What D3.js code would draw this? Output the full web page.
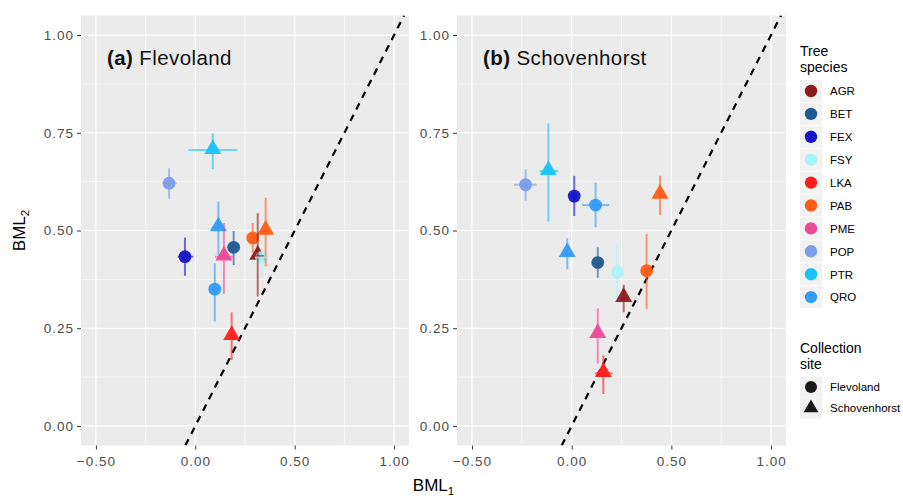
<!DOCTYPE html>
<html>
<head>
<meta charset="utf-8">
<script src="https://cdn.jsdelivr.net/npm/d3@7"></script>
<style>
  html, body { margin: 0; padding: 0; background: #fff; }
  svg { display: block; font-family: "Liberation Sans", Arial, Helvetica, sans-serif; }
</style>
</head>
<body>
<svg id="chart" width="903" height="500"></svg>
<script>
// Tree species and their colours
const speciesNames = ["AGR", "BET", "FEX", "FSY", "LKA", "PAB", "PME", "POP", "PTR", "QRO"];
const speciesColors = ["#8E1B1B", "#1F5A90", "#1414C8", "#A6F3FC", "#FF1C1C", "#FF5B14", "#EC4A95", "#7B9DEA", "#19C3F5", "#339CF9"];
const siteNames = ["Flevoland", "Schovenhorst"];

const axisTicks = [0, 0.25, 0.5, 0.75, 1.0];
const xTicks = [-0.5, 0, 0.5, 1.0];

// Panel (a) Flevoland
const aSpecies = ["PTR", "POP", "QRO", "FEX", "PME", "BET", "PAB", "PAB", "AGR", "FSY", "QRO", "LKA"];
const aSite    = ["Schovenhorst", "Flevoland", "Schovenhorst", "Flevoland", "Schovenhorst", "Flevoland", "Flevoland", "Schovenhorst", "Schovenhorst", "Flevoland", "Flevoland", "Schovenhorst"];
const aBml1    = [0.088, -0.132, 0.116, -0.052, 0.144, 0.193, 0.289, 0.354, 0.314, 0.334, 0.098, 0.183];
const aBml1Lo  = [-0.035, -0.164, 0.082, -0.089, 0.099, 0.178, 0.274, 0.340, 0.290, 0.300, 0.084, 0.168];
const aBml1Hi  = [0.211, -0.094, 0.149, -0.010, 0.188, 0.208, 0.304, 0.368, 0.345, 0.365, 0.112, 0.198];
const aBml2    = [0.706, 0.621, 0.508, 0.433, 0.433, 0.457, 0.481, 0.499, 0.435, 0.431, 0.350, 0.230];
const aBml2Lo  = [0.657, 0.581, 0.437, 0.384, 0.338, 0.412, 0.443, 0.408, 0.331, 0.379, 0.267, 0.169];
const aBml2Hi  = [0.749, 0.659, 0.574, 0.482, 0.519, 0.499, 0.519, 0.584, 0.544, 0.443, 0.416, 0.291];

// Panel (b) Schovenhorst
const bSpecies = ["POP", "PTR", "FEX", "QRO", "PAB", "QRO", "BET", "FSY", "PAB", "AGR", "PME", "LKA"];
const bSite    = ["Flevoland", "Schovenhorst", "Flevoland", "Flevoland", "Schovenhorst", "Schovenhorst", "Flevoland", "Flevoland", "Flevoland", "Schovenhorst", "Schovenhorst", "Schovenhorst"];
const bBml1    = [-0.231, -0.117, 0.013, 0.120, 0.443, -0.022, 0.131, 0.229, 0.376, 0.261, 0.131, 0.159];
const bBml1Lo  = [-0.288, -0.162, 0.000, 0.053, 0.430, -0.035, 0.118, 0.215, 0.362, 0.246, 0.116, 0.117];
const bBml1Hi  = [-0.176, -0.067, 0.026, 0.189, 0.456, -0.009, 0.144, 0.243, 0.390, 0.276, 0.146, 0.205];
const bBml2    = [0.617, 0.652, 0.588, 0.565, 0.591, 0.442, 0.418, 0.393, 0.397, 0.327, 0.235, 0.135];
const bBml2Lo  = [0.576, 0.523, 0.537, 0.508, 0.540, 0.401, 0.379, 0.331, 0.299, 0.291, 0.160, 0.082];
const bBml2Hi  = [0.657, 0.774, 0.640, 0.622, 0.640, 0.480, 0.457, 0.467, 0.491, 0.361, 0.301, 0.180];

function rows(sp, site, x, xlo, xhi, y, ylo, yhi) {
  return sp.map((s, i) => ({ species: s, site: site[i], x: x[i], xlo: xlo[i], xhi: xhi[i], y: y[i], ylo: ylo[i], yhi: yhi[i] }));
}

const panels = [
  { tag: "(a)", name: "Flevoland", left: 81, right: 409,
    data: rows(aSpecies, aSite, aBml1, aBml1Lo, aBml1Hi, aBml2, aBml2Lo, aBml2Hi) },
  { tag: "(b)", name: "Schovenhorst", left: 457, right: 786,
    data: rows(bSpecies, bSite, bBml1, bBml1Lo, bBml1Hi, bBml2, bBml2Lo, bBml2Hi) }
];

const plotTop = 15.5, plotBottom = 445.5;
const color = d3.scaleOrdinal().domain(speciesNames).range(speciesColors);
const triangle = d3.symbol().type(d3.symbolTriangle).size(125);
const triangleKey = d3.symbol().type(d3.symbolTriangle).size(95);

const svg = d3.select("#chart");
const defs = svg.append("defs");

const y = d3.scaleLinear().domain([-0.05, 1.05]).range([plotBottom, plotTop]);

panels.forEach((p, pi) => {
  const x = d3.scaleLinear().domain([-0.575, 1.075]).range([p.left, p.right]);
  const g = svg.append("g");
  const clipId = "clip" + pi;
  defs.append("clipPath").attr("id", clipId)
    .append("rect").attr("x", p.left).attr("y", plotTop).attr("width", p.right - p.left).attr("height", plotBottom - plotTop);

  g.append("rect").attr("x", p.left).attr("y", plotTop).attr("width", p.right - p.left).attr("height", plotBottom - plotTop)
    .attr("fill", "#EBEBEB");

  // minor grid
  const xMinor = [-0.25, 0.25, 0.75];
  const yMinor = [0.125, 0.375, 0.625, 0.875];
  g.selectAll(".xminor").data(xMinor).join("line").attr("class", "xminor")
    .attr("x1", d => x(d)).attr("x2", d => x(d)).attr("y1", plotTop).attr("y2", plotBottom)
    .attr("stroke", "#fff").attr("stroke-width", 0.6);
  g.selectAll(".yminor").data(yMinor).join("line").attr("class", "yminor")
    .attr("x1", p.left).attr("x2", p.right).attr("y1", d => y(d)).attr("y2", d => y(d))
    .attr("stroke", "#fff").attr("stroke-width", 0.6);
  // major grid
  g.selectAll(".xmajor").data(xTicks).join("line").attr("class", "xmajor")
    .attr("x1", d => x(d)).attr("x2", d => x(d)).attr("y1", plotTop).attr("y2", plotBottom)
    .attr("stroke", "#fff").attr("stroke-width", 1.2);
  g.selectAll(".ymajor").data(axisTicks).join("line").attr("class", "ymajor")
    .attr("x1", p.left).attr("x2", p.right).attr("y1", d => y(d)).attr("y2", d => y(d))
    .attr("stroke", "#fff").attr("stroke-width", 1.2);

  // axes
  const xAxis = d3.axisBottom(x).tickValues(xTicks).tickSize(4).tickPadding(7)
    .tickFormat(d => d3.format(".2f")(d).replace("-", "\u2212"));
  const gx = svg.append("g").attr("transform", `translate(0,${plotBottom})`).call(xAxis);
  gx.select(".domain").remove();
  gx.selectAll(".tick line").attr("stroke", "#333").attr("stroke-width", 1);
  gx.selectAll(".tick text").attr("fill", "#4D4D4D").attr("font-size", 13.5)
    .attr("letter-spacing", 1)
    .attr("font-family", "'Liberation Sans', Arial, sans-serif");

  const yAxis = d3.axisLeft(y).tickValues(axisTicks).tickSize(4).tickPadding(3)
    .tickFormat(d3.format(".2f"));
  const gy = svg.append("g").attr("transform", `translate(${p.left},0)`).call(yAxis);
  gy.select(".domain").remove();
  gy.selectAll(".tick line").attr("stroke", "#333").attr("stroke-width", 1);
  gy.selectAll(".tick text").attr("fill", "#4D4D4D").attr("font-size", 13.5)
    .attr("letter-spacing", 1)
    .attr("font-family", "'Liberation Sans', Arial, sans-serif");

  const plot = svg.append("g").attr("clip-path", `url(#${clipId})`);

  // 1:1 reference line
  plot.append("line")
    .attr("x1", x(-0.05)).attr("y1", y(-0.05)).attr("x2", x(1.05)).attr("y2", y(1.05))
    .attr("stroke", "#000").attr("stroke-width", 2.2).attr("stroke-dasharray", "7,6");

  // points
  p.data.forEach(d => {
    if (d.site === "Flevoland") {
      plot.append("circle").attr("cx", x(d.x)).attr("cy", y(d.y)).attr("r", 6.4)
        .attr("fill", color(d.species)).attr("fill-opacity", d.species === "FSY" ? 0.85 : 0.95);
    } else {
      plot.append("path").attr("d", triangle)
        .attr("transform", `translate(${x(d.x)},${y(d.y) - 1})`)
        .attr("fill", color(d.species)).attr("fill-opacity", 0.95);
    }
  });

  // error bars
  plot.selectAll(".vbar").data(p.data).join("line").attr("class", "vbar")
    .attr("x1", d => x(d.x)).attr("x2", d => x(d.x))
    .attr("y1", d => y(d.ylo)).attr("y2", d => y(d.yhi))
    .attr("stroke", d => color(d.species)).attr("stroke-width", 2).attr("stroke-opacity", 0.6);
  plot.selectAll(".hbar").data(p.data).join("line").attr("class", "hbar")
    .attr("x1", d => x(d.xlo)).attr("x2", d => x(d.xhi))
    .attr("y1", d => y(d.y)).attr("y2", d => y(d.y))
    .attr("stroke", d => color(d.species)).attr("stroke-width", 2).attr("stroke-opacity", 0.6);

  // panel label
  const lab = svg.append("text").attr("x", p.left + 26).attr("y", 65)
    .attr("font-size", 20.5).attr("letter-spacing", 0.4).attr("fill", "#111");
  lab.append("tspan").attr("font-weight", "bold").text(p.tag);
  lab.append("tspan").text(" " + p.name);
});

// axis titles
const xt = svg.append("text").attr("x", 433.5).attr("y", 491).attr("text-anchor", "middle")
  .attr("font-size", 17).attr("fill", "#000");
xt.append("tspan").text("BML");
xt.append("tspan").attr("font-size", 11.5).attr("dy", 4).text("1");

const yt = svg.append("text").attr("transform", "translate(25,230.5) rotate(-90)")
  .attr("text-anchor", "middle").attr("font-size", 17).attr("fill", "#000");
yt.append("tspan").text("BML");
yt.append("tspan").attr("font-size", 11.5).attr("dy", 4).text("2");

// legend: tree species
const leg = svg.append("g");
leg.append("text").attr("x", 800).attr("y", 56).attr("font-size", 14).attr("fill", "#000").text("Tree");
leg.append("text").attr("x", 800).attr("y", 72).attr("font-size", 14).attr("fill", "#000").text("species");
speciesNames.forEach((s, i) => {
  const cy = 91 + i * 22.9;
  leg.append("rect").attr("x", 800).attr("y", cy - 11).attr("width", 22).attr("height", 22).attr("fill", "#F2F2F2");
  leg.append("circle").attr("cx", 811).attr("cy", cy).attr("r", 6.2).attr("fill", color(s));
  leg.append("text").attr("x", 830).attr("y", cy + 4.3).attr("font-size", 11.5).attr("fill", "#000").text(s);
});

// legend: collection site
leg.append("text").attr("x", 800).attr("y", 353).attr("font-size", 14).attr("fill", "#000").text("Collection");
leg.append("text").attr("x", 800).attr("y", 369).attr("font-size", 14).attr("fill", "#000").text("site");
siteNames.forEach((s, i) => {
  const cy = 387 + i * 21;
  leg.append("rect").attr("x", 800).attr("y", cy - 10.5).attr("width", 22).attr("height", 21).attr("fill", "#F2F2F2");
  if (i === 0) {
    leg.append("circle").attr("cx", 811).attr("cy", cy).attr("r", 6).attr("fill", "#1A1A1A");
  } else {
    leg.append("path").attr("d", triangleKey).attr("transform", `translate(811,${cy})`).attr("fill", "#1A1A1A");
  }
  leg.append("text").attr("x", 830).attr("y", cy + 4).attr("font-size", 11.5).attr("fill", "#000").text(s);
});
</script>
</body>
</html>
